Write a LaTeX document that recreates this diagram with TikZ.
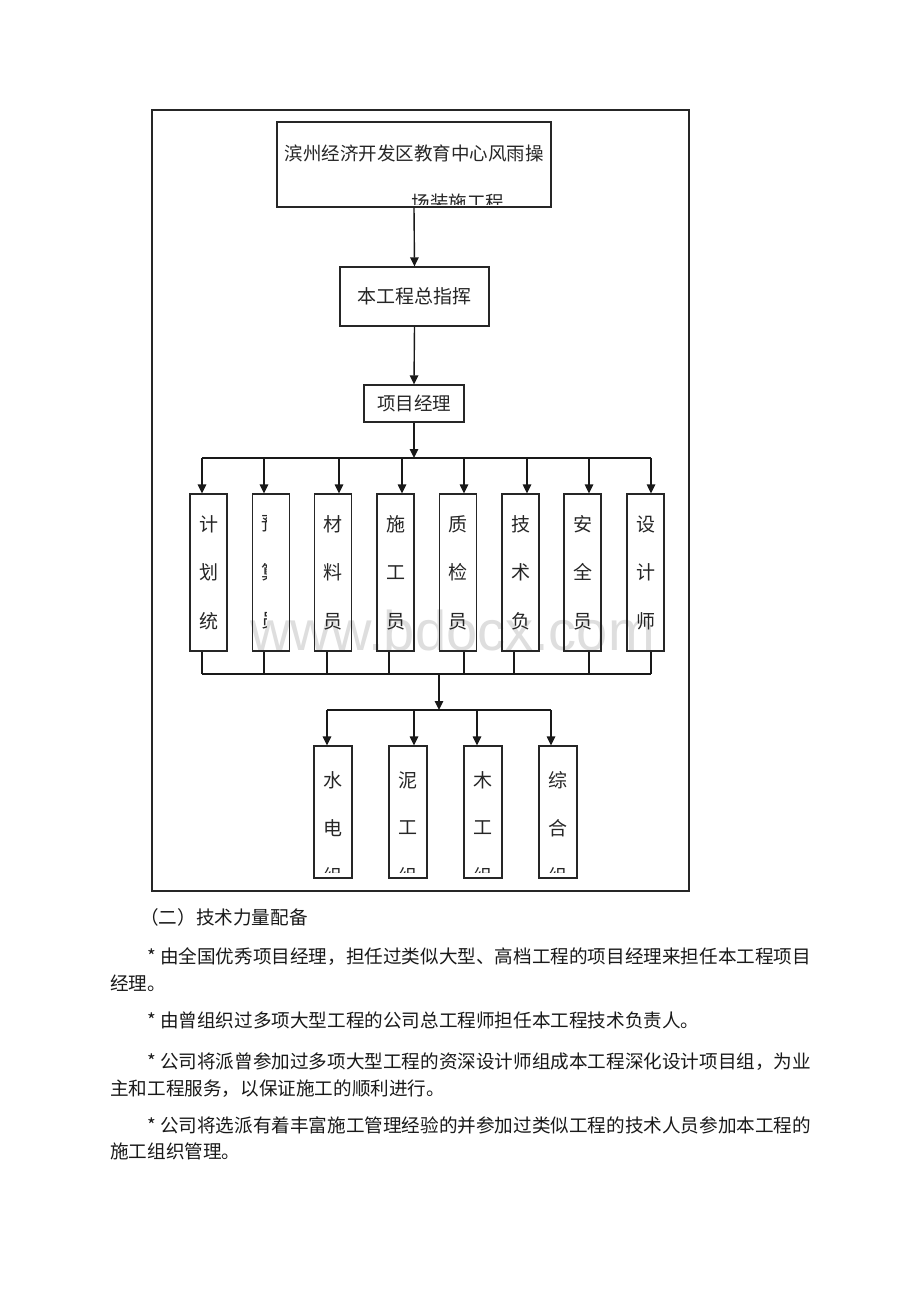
\documentclass[tikz,border=0pt]{standalone}
\usepackage{fontspec}
\newfontfamily\cjk{Noto Sans CJK SC}
\newfontfamily\wmfont{Liberation Sans}
\usetikzlibrary{arrows.meta,calc}
\begin{document}
\begin{tikzpicture}[x=1pt,y=-1pt,
  box/.style={draw=black!85,line width=1.3pt,inner sep=0pt},
  vbox/.style={box,minimum width=37pt,minimum height=157pt,align=center,text=black!85,font=\cjk\fontsize{19}{48.5}\selectfont},
  lbox/.style={box,minimum width=38pt,minimum height=132pt},
  lbl/.style={inner sep=0pt,text=black!85,font=\cjk\fontsize{18.5}{18.5}\selectfont},
  arr/.style={line width=1.4pt,draw=black!90,-{Triangle[length=9pt,width=8.5pt]}},
  ln/.style={line width=1.3pt,draw=black!90},
  para/.style={anchor=west,inner sep=0pt,text=black!90,font=\cjk\fontsize{18.6}{18.6}\selectfont}]
\useasboundingbox[fill=white] (0,0) rectangle (920,1302);

% watermark
\node[anchor=base west,inner sep=0pt,text=black!13,font=\wmfont\fontsize{56}{56}\selectfont] (wm) at (250,650) {www.bdocx.com};

% outer frame
\draw[line width=1.5pt,draw=black!85] (152,110) rectangle (689,891);

% top box
\node[box,minimum width=274pt,minimum height=85pt] (top) at (414,164.5) {};
\node[lbl] (topt) at (414,153) {滨州经济开发区教育中心风雨操};
\begin{scope}
\clip (300,185) rectangle (540,204);
\node[lbl] (topt2) at (458,202.5) {场装施工程};
\end{scope}

\node[box,minimum width=149pt,minimum height=59pt] (zong) at (414.5,296.5) {};
\node[lbl,font=\cjk\fontsize{19}{19}\selectfont] (zongt) at (zong.center) {本工程总指挥};

\node[box,minimum width=100pt,minimum height=37pt] (pm) at (414,403.5) {};
\node[lbl] (pmt) at (pm.center) {项目经理};

\draw[arr] (top.south) -- (zong.north);
\draw[arr] (zong.south) -- (pm.north);

% staff boxes
\node[vbox] (s1) at (208.5,572.5) {计\\划\\统};
\node[vbox] (s2) at (271,572.5) {};
\node[vbox] (s3) at (333,572.5) {材\\料\\员};
\node[vbox] (s4) at (395.5,572.5) {施\\工\\员};
\node[vbox] (s5) at (458,572.5) {质\\检\\员};
\node[vbox] (s6) at (520.5,572.5) {技\\术\\负};
\node[vbox] (s7) at (582.5,572.5) {安\\全\\员};
\node[vbox] (s8) at (645.5,572.5) {设\\计\\师};
\begin{scope}
\clip (261.5,500) rectangle (266,645);
\node[align=center,inner sep=0pt,text=black!85,font=\cjk\fontsize{19}{48.5}\selectfont] (s2t) at (s2.center) {预\\算\\员};
\end{scope}

\coordinate (bus1) at (414,458);
\draw[arr] (pm.south) -- (bus1);
\foreach \i/\dx in {1/-6.5,2/-7,3/6,4/6.5,5/6,6/6.5,7/6.5,8/5.5}{
  \coordinate (in\i) at ([xshift=\dx pt]s\i.north);
}
\draw[ln] (in1 |- bus1) -- (in8 |- bus1);
\foreach \i in {1,...,8}{
  \draw[arr] (in\i |- bus1) -- (in\i);
}

\coordinate (bus2) at (439,674);
\foreach \i/\dx in {1/-6.5,2/-7,3/-6,4/-6.5,5/6,6/-6.5,7/6.5,8/5.5}{
  \coordinate (out\i) at ([xshift=\dx pt]s\i.south);
  \draw[ln] (out\i) -- (out\i |- bus2);
}
\draw[ln] (out1 |- bus2) -- (out8 |- bus2);
\coordinate (bus3) at (439,710);
\draw[arr] (bus2) -- (bus3);

% bottom team boxes
\node[lbox] (w1) at (333,812) {};
\node[lbox] (w2) at (408,812) {};
\node[lbox] (w3) at (483,812) {};
\node[lbox] (w4) at (558,812) {};
\foreach \i/\a/\b in {1/水/电,2/泥/工,3/木/工,4/综/合}{
  \node[lbl,font=\cjk\fontsize{19}{19}\selectfont] (w\i a) at ([yshift=32pt]w\i.center) {\a};
  \node[lbl,font=\cjk\fontsize{19}{19}\selectfont] (w\i b) at ([yshift=-16pt]w\i.center) {\b};
  \begin{scope}
  \clip ([xshift=-15pt,yshift=-52pt]w\i.center) rectangle ([xshift=15pt,yshift=-60pt]w\i.center);
  \node[lbl,font=\cjk\fontsize{19}{19}\selectfont] (w\i c) at ([yshift=-64pt]w\i.center) {组};
  \end{scope}
}
\foreach \i/\dx in {1/-6,2/6,3/-6,4/-7}{
  \coordinate (win\i) at ([xshift=\dx pt]w\i.north);
}
\draw[ln] (win1 |- bus3) -- (win4 |- bus3);
\foreach \i in {1,...,4}{
  \draw[arr] (win\i |- bus3) -- (win\i);
}

% text below
\node[para] (p0) at (140,917) {（二）技术力量配备};
\node[para] (p1) at (147,957) {* 由全国优秀项目经理，担任过类似大型、高档工程的项目经理来担任本工程项目};
\node[para] (p1b) at (110,983.5) {经理。};
\node[para] (p2) at (147,1020) {* 由曾组织过多项大型工程的公司总工程师担任本工程技术负责人。};
\node[para] (p3) at (147,1062) {* 公司将派曾参加过多项大型工程的资深设计师组成本工程深化设计项目组，为业};
\node[para] (p3b) at (110,1089) {主和工程服务，以保证施工的顺利进行。};
\node[para] (p4) at (147,1125) {* 公司将选派有着丰富施工管理经验的并参加过类似工程的技术人员参加本工程的};
\node[para] (p4b) at (110,1151) {施工组织管理。};
\end{tikzpicture}
\end{document}
